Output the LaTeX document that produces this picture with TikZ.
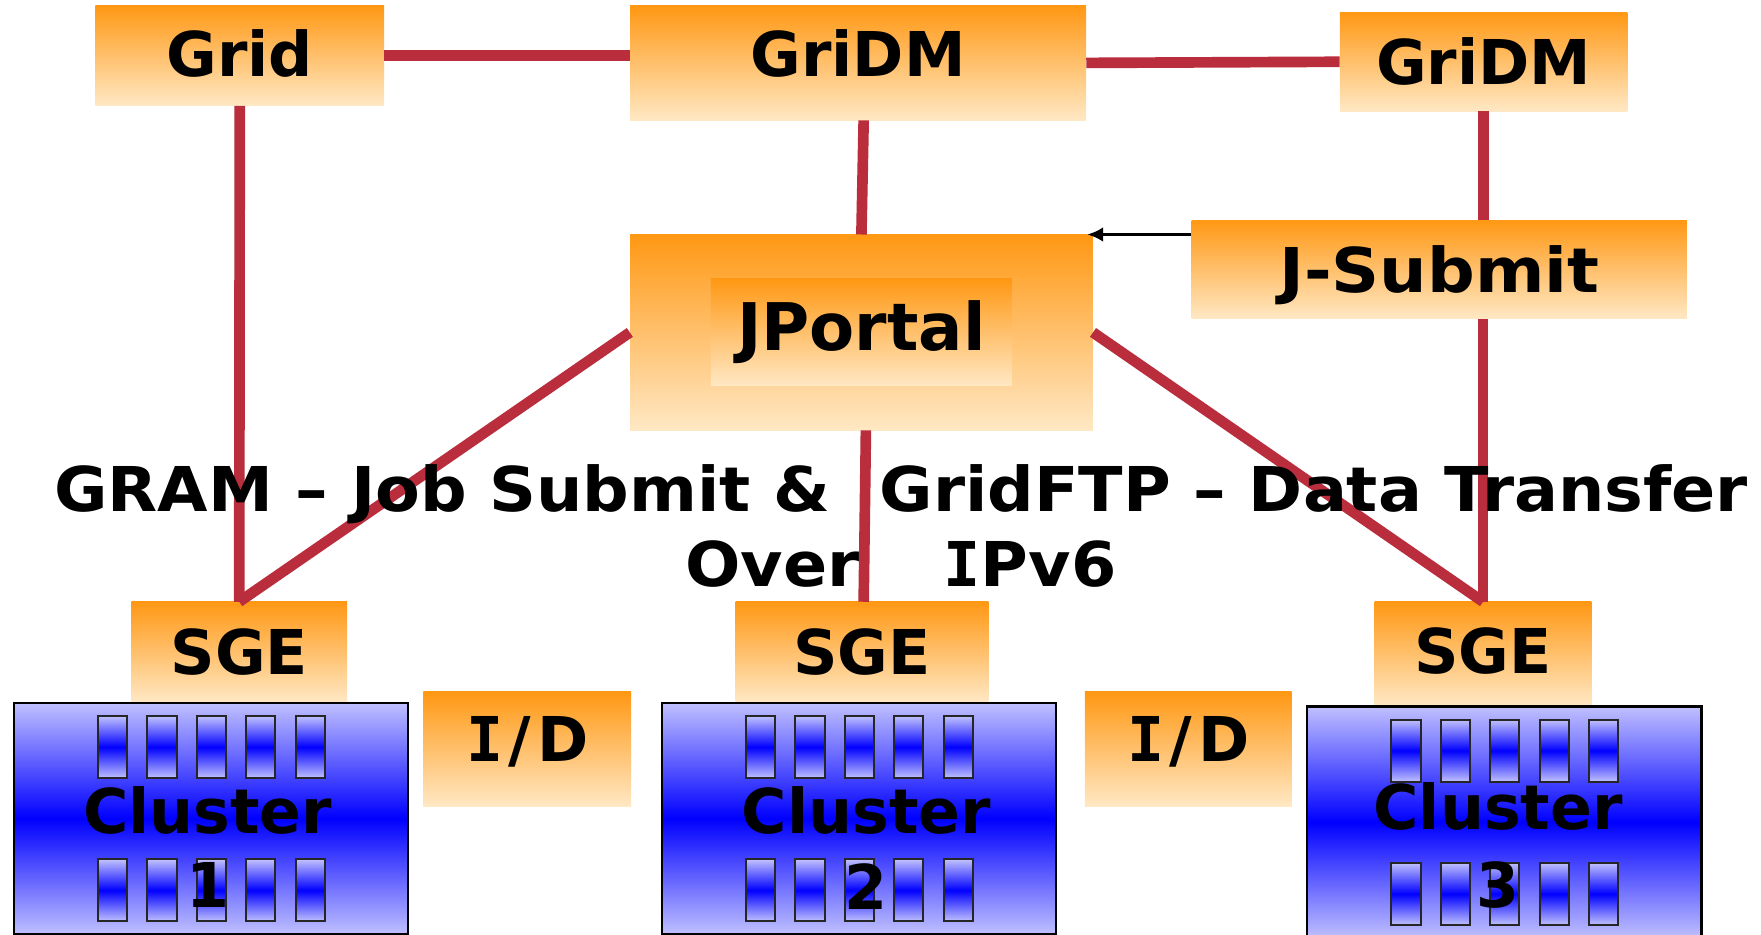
\documentclass[tikz,border=0pt]{standalone}
\usepackage{fontspec}
\setmainfont{DejaVu Sans}
\newfontfamily\capfont[FakeStretch=1.055]{DejaVu Sans}
\newfontfamily\widefont[FakeStretch=1.08]{DejaVu Sans}
\newfontfamily\serifI{DejaVu Sans Mono}
\newcommand{\SI}{{\serifI\bfseries I}}
\usetikzlibrary{arrows.meta}
\definecolor{org}{RGB}{255,152,20}
\definecolor{orgl}{RGB}{255,232,196}
\definecolor{blt}{RGB}{192,192,255}
\definecolor{bdeep}{RGB}{0,0,255}
\definecolor{redl}{RGB}{185,45,60}
\begin{document}
\begin{tikzpicture}[x=1pt,y=1pt,
  obox/.style={rectangle, inner sep=0pt, top color=org, bottom color=orgl, font=\fontsize{55}{66}\selectfont\bfseries, text height=40pt},
  cbox/.style={rectangle, inner sep=0pt, draw=black, line width=2pt, top color=blt, bottom color=blt, middle color=bdeep, anchor=north west, minimum width=351pt, minimum height=206pt},
  srv/.style={rectangle, inner sep=0pt, draw=black!85, line width=1.8pt, top color=blt, bottom color=blt, middle color=bdeep, minimum width=26pt, minimum height=55pt, anchor=north west},
  lbl/.style={font=\fontsize{55}{66}\selectfont\bfseries, inner sep=0pt, anchor=base},
  captxt/.style={font=\capfont\fontsize{55}{66}\selectfont\bfseries, inner sep=0pt, anchor=base west},
  link/.style={draw=redl, line width=9.5pt},
]
\useasboundingbox (0,0) rectangle (1568,-832);
% top row
\node[obox, minimum width=257pt, minimum height=89pt, text depth=3pt] (grid) at (213.5,-49.5) {Grid};
\node[obox, minimum width=406pt, minimum height=102pt, text depth=15pt] (gridm1) at (764,-56) {GriDM};
\node[obox, minimum width=256pt, minimum height=88pt, text depth=0pt] (gridm2) at (1321,-55) {GriDM};
\node[obox, minimum width=441pt, minimum height=88pt, text depth=0pt, font=\widefont\fontsize{55}{66}\selectfont\bfseries] (jsubmit) at (1281.5,-240) {J-Submit};
\node[obox, minimum width=412pt, minimum height=174pt] (jportal) at (767,-296) {};
\node[obox, minimum width=268pt, minimum height=95pt, font=\fontsize{58.5}{70}\selectfont\bfseries, text height=42.8pt, text depth=10pt] (jportalin) at (767,-295.9) {JPortal};
% SGE and I/D
\node[obox, minimum width=192pt, minimum height=89pt, text depth=0pt] (sge1) at (213,-580.5) {SGE};
\node[obox, minimum width=225pt, minimum height=89pt, text depth=0pt] (sge2) at (767.5,-580.5) {SGE};
\node[obox, minimum width=193pt, minimum height=92pt, text depth=4pt] (sge3) at (1320.5,-582) {SGE};
\node[obox, minimum width=185pt, minimum height=102pt, text depth=18pt] (id1) at (469.5,-667) {\SI\kern5pt/\kern5pt D};
\node[obox, minimum width=184pt, minimum height=102pt, text depth=18pt] (id2) at (1058,-667) {\SI\kern5pt/\kern5pt D};
% clusters
\node[cbox] (c1) at (11.3,-624.8) {};
\node[cbox] (c2) at (588.3,-624.8) {};
\node[cbox] (c3) at (1163,-628) {};
\foreach \c in {c1,c2,c3}{
  \foreach \i in {0,...,4}{
    \node[srv] (\c top\i) at ([shift={({75+44*\i},-12)}]\c.north west) {};
    \node[srv] (\c bot\i) at ([shift={({75+44*\i},-139.5)}]\c.north west) {};
  }
}
\node[lbl] (c1t) at (185,-742) {Cluster};
\node[lbl] (c1n) at (185,-808) {1};
\node[lbl] (c2t) at (771.5,-742) {Cluster};
\node[lbl] (c2n) at (771.5,-810) {2};
\node[lbl] (c3t) at (1334,-739) {Cluster};
\node[lbl] (c3n) at (1334,-808) {3};
% links
\draw[link] (grid.east) -- (grid.east -| gridm1.west);
\draw[link] (gridm1.east) -- (gridm2.west);
\draw[link] (grid.south) -- (sge1.north);
\draw[link] ([xshift=5pt]gridm1.south) -- (jportal.north);
\draw[link] (gridm2.south) -- (gridm2.south |- jsubmit.north);
\draw[link] (sge3.north |- jsubmit.south) -- (sge3.north);
\draw[link] (jportal.west) -- (sge1.north);
\draw[link] (jportal.east) -- (sge3.north);
\draw[link] ([xshift=4pt]jportal.south) -- ([xshift=1.5pt]sge2.north);
\draw[line width=2.4pt, -{Latex[length=14pt,width=13pt]}] ([yshift=-13pt]jsubmit.north west) -- ([xshift=-5pt]jportal.north east);
% caption text
\node[captxt] (t1) at (48,-455) {GRAM – Job Submit \&};
\node[captxt] (t2) at (783,-455) {GridFTP – Data Transfer};
\node[captxt] (t3) at (610,-522) {Over};
\node[captxt] (t4) at (840,-522) {\SI Pv6};
\end{tikzpicture}
\end{document}
